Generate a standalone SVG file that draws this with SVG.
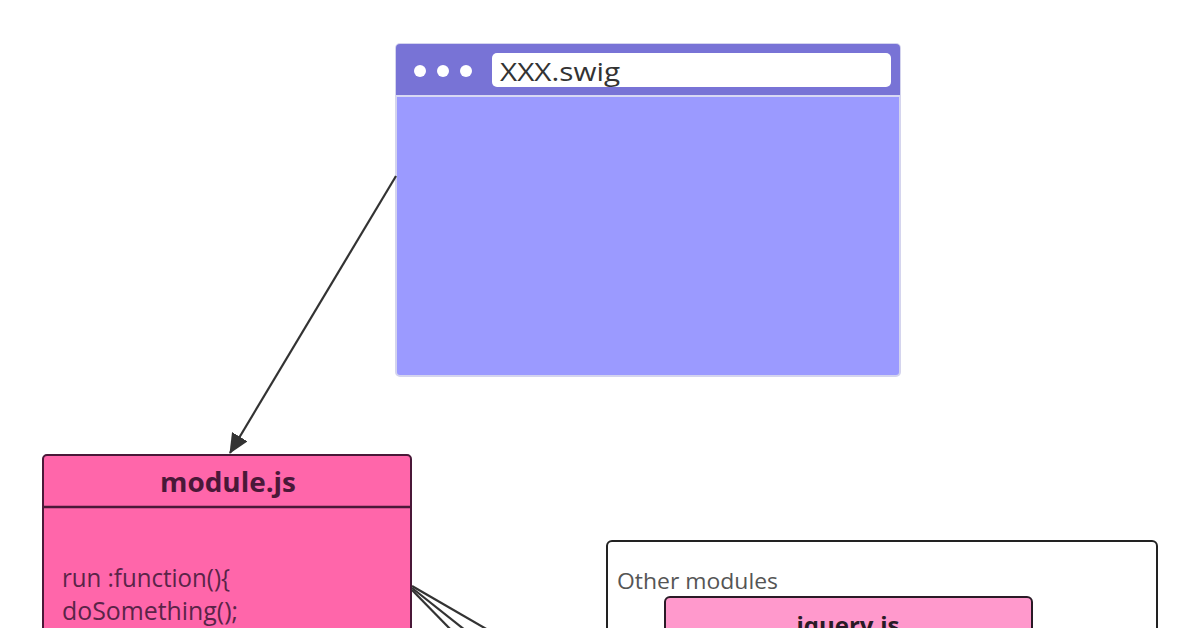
<svg xmlns="http://www.w3.org/2000/svg" width="1200" height="628" viewBox="0 0 1200 628">
<defs>
<style>
.t{font-family:"Open Sans","Noto Sans","Liberation Sans",sans-serif}
.conn{stroke:#333;stroke-width:2.2;fill:none}
</style>
<marker id="ahb" viewBox="0 0 20 18" refX="19" refY="9" markerWidth="20" markerHeight="18" markerUnits="userSpaceOnUse" orient="auto">
<path d="M0,0 L20,9 L0,18 z" fill="#333"/>
</marker>
</defs>
<rect width="1200" height="628" fill="#fff"/>
<g id="browser">
<rect x="396" y="44" width="504" height="332" rx="4" fill="#9b9aff" stroke="#d4d4ee" stroke-width="2"/>
<path d="M396,95 V48 a4,4 0 0 1 4,-4 H896 a4,4 0 0 1 4,4 V95 z" fill="#7873d6"/>
<line x1="396" y1="96" x2="900" y2="96" stroke="#d8d8f4" stroke-width="2"/>
<circle cx="420" cy="71" r="6" fill="#fff"/>
<circle cx="443" cy="71" r="6" fill="#fff"/>
<circle cx="466" cy="71" r="6" fill="#fff"/>
<rect x="492" y="53" width="399" height="34" rx="5" fill="#fff"/>
<text class="t" x="500" y="81" font-size="25" fill="#333" textLength="120" lengthAdjust="spacingAndGlyphs">XXX.swig</text>
</g>
<g id="module">
<rect x="43" y="455" width="368" height="200" rx="4" fill="#ff66aa" stroke="#4a1838" stroke-width="2"/>
<line x1="43" y1="507" x2="411" y2="507" stroke="#4a1838" stroke-width="2.5"/>
<text class="t" x="228" y="492" font-size="26" font-weight="bold" fill="#4a1838" text-anchor="middle" textLength="136" lengthAdjust="spacingAndGlyphs">module.js</text>
<text class="t" x="62" y="587" font-size="25" fill="#5a2448" textLength="168" lengthAdjust="spacingAndGlyphs">run :function(){</text>
<text class="t" x="62" y="620" font-size="25" fill="#5a2448" textLength="176" lengthAdjust="spacingAndGlyphs">doSomething();</text>
</g>
<g id="other">
<rect x="607" y="541" width="550" height="200" rx="5" fill="#fff" stroke="#222" stroke-width="2"/>
<text class="t" x="617" y="589" font-size="21" fill="#555" textLength="161" lengthAdjust="spacingAndGlyphs">Other modules</text>
<g id="jquery">
<rect x="665" y="597" width="367" height="100" rx="5" fill="#ff99cc" stroke="#2a1a26" stroke-width="2"/>
<text class="t" x="848" y="634" font-size="24" font-weight="bold" fill="#2a1a26" text-anchor="middle">jquery.js</text>
</g>
</g>
<g id="connectors">
<line class="conn" x1="396" y1="176" x2="230" y2="453" marker-end="url(#ahb)"/>
<line class="conn" x1="412" y1="586" x2="495" y2="634"/>
<line class="conn" x1="412" y1="588" x2="470" y2="634"/>
<line class="conn" x1="412" y1="590" x2="455" y2="634"/>
</g>
</svg>
